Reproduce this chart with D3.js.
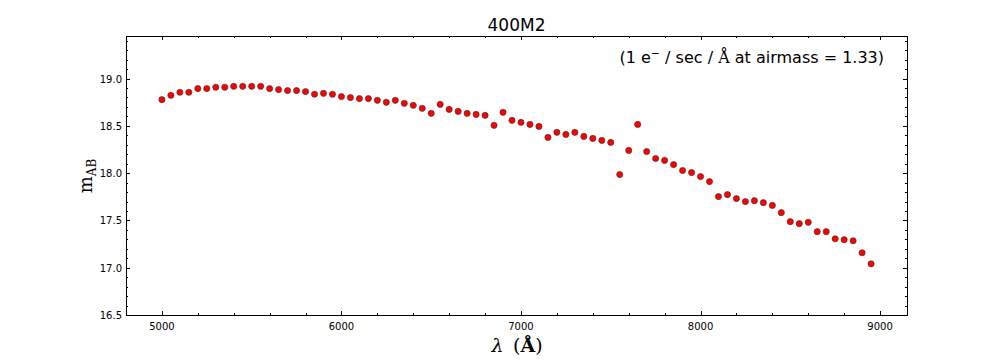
<!DOCTYPE html>
<html><head><meta charset="utf-8">
<script src="https://cdn.jsdelivr.net/npm/d3@7"></script>
<style>body{margin:0;background:#fff}svg{display:block}text{font-family:"DejaVu Sans",sans-serif}</style>
</head><body><svg id="c" width="1008" height="360"></svg>
<script>
const wavelengths = d3.range(80).map(i => 5000 + 50 * i);
const magnitudes = [
 18.777,18.823,18.855,18.855,18.894,18.894,18.908,18.908,18.918,18.918,
 18.918,18.918,18.894,18.883,18.873,18.873,18.862,18.834,18.844,18.834,
 18.809,18.799,18.788,18.788,18.770,18.749,18.770,18.738,18.717,18.685,
 18.632,18.727,18.674,18.653,18.632,18.621,18.611,18.505,18.643,18.558,
 18.537,18.515,18.494,18.378,18.431,18.409,18.431,18.388,18.367,18.346,
 18.325,17.985,18.240,18.515,18.229,18.155,18.134,18.091,18.028,18.006,
 17.964,17.911,17.752,17.773,17.731,17.699,17.709,17.688,17.659,17.582,
 17.487,17.466,17.480,17.381,17.381,17.306,17.296,17.285,17.158,17.041
];
const xTicks = [5000, 6000, 7000, 8000, 9000];
const yTicks = [16.5, 17.0, 17.5, 18.0, 18.5, 19.0];
const xDomain = [4800, 9150];
const yDomain = [16.5, 19.45];
const titleText = "400M2";

const svg = d3.select("#c");
const L = 126, R = 907, T = 36, B = 315;
const x = d3.scaleLinear().domain(xDomain).range([L, R]);
const y = d3.scaleLinear().domain(yDomain).range([B, T]);

const xMinor = d3.range(4800, 9151, 200);
const yMinor = d3.range(0, 30).map(i => +(16.5 + i * 0.1).toFixed(1)).filter(v => v <= 19.45);

const g = svg.append("g");
function ticks(vals, len, axis) {
  vals.forEach(v => {
    if (axis === "x") {
      const px = Math.round(x(v)) + 0.5;
      g.append("line").attr("x1", px).attr("x2", px).attr("y1", B).attr("y2", B - len).attr("stroke", "#000");
      g.append("line").attr("x1", px).attr("x2", px).attr("y1", T).attr("y2", T + len).attr("stroke", "#000");
    } else {
      const py = Math.round(y(v)) + 0.5;
      g.append("line").attr("y1", py).attr("y2", py).attr("x1", L).attr("x2", L + len).attr("stroke", "#000");
      g.append("line").attr("y1", py).attr("y2", py).attr("x1", R).attr("x2", R - len).attr("stroke", "#000");
    }
  });
}
ticks(xMinor, 2, "x");
ticks(xTicks, 4, "x");
ticks(yMinor, 2, "y");
ticks(yTicks, 4, "y");

svg.append("rect").attr("x", L + 0.5).attr("y", T + 0.5).attr("width", R - L).attr("height", B - T)
  .attr("fill", "none").attr("stroke", "#000").attr("stroke-width", 1);

xTicks.forEach(v => svg.append("text").attr("x", x(v)).attr("y", B + 15).attr("text-anchor", "middle")
  .attr("font-size", 10).text(v));
yTicks.forEach(v => svg.append("text").attr("x", L - 4).attr("y", y(v) + 4).attr("text-anchor", "end")
  .attr("font-size", 10).text(v.toFixed(1)));

svg.selectAll("circle.pt").data(wavelengths).enter().append("circle")
  .attr("cx", d => x(d)).attr("cy", (d, i) => y(magnitudes[i])).attr("r", 3.1)
  .attr("fill", "#ff0000").attr("stroke", "#333").attr("stroke-width", 0.6);

svg.append("text").attr("x", (L + R) / 2).attr("y", 31).attr("text-anchor", "middle")
  .attr("font-size", 17).text(titleText);

const ann = svg.append("text").attr("x", 884).attr("y", 63).attr("text-anchor", "end").attr("font-size", 16);
ann.append("tspan").text("(1 e");
ann.append("tspan").attr("font-size", 11).attr("dy", -6).text("\u2212");
ann.append("tspan").attr("dy", 6).text(" / sec / ");
ann.append("tspan").attr("font-family", "DejaVu Serif, serif").text("\u00C5");
ann.append("tspan").text(" at airmass = 1.33)");

const yl = svg.append("text").attr("transform", "translate(92,176) rotate(-90)").attr("text-anchor", "middle")
  .attr("font-family", "DejaVu Serif, serif").attr("font-size", 18);
yl.append("tspan").style("font-family", "DejaVu Serif, serif").text("m");
yl.append("tspan").style("font-family", "DejaVu Serif, serif").attr("font-size", 12).attr("dy", 4).text("AB");

const xl = svg.append("text").attr("x", 517).attr("y", 352).attr("text-anchor", "middle").attr("font-size", 19)
  .style("font-family", "DejaVu Serif, serif");
xl.append("tspan").attr("font-style", "italic").text("\u03BB");
xl.append("tspan").text("\u2002(");
xl.append("tspan").attr("font-weight", "bold").text("\u00C5");
xl.append("tspan").text(")");
</script></body></html>
